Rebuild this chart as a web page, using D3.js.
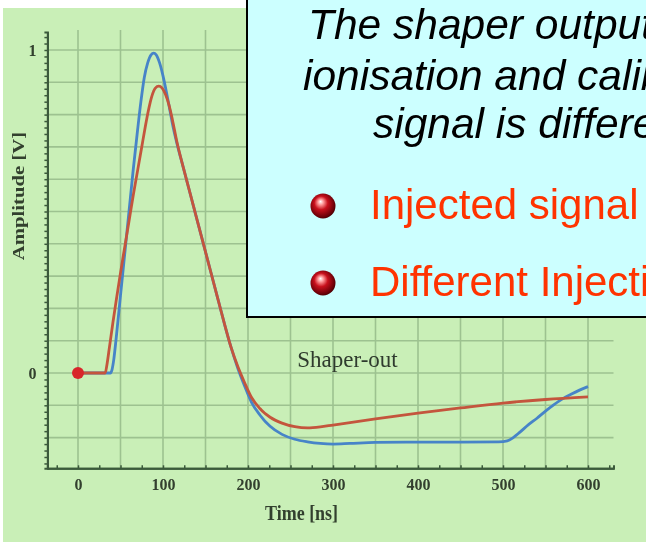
<!DOCTYPE html>
<html>
<head>
<meta charset="utf-8">
<script src="https://cdn.jsdelivr.net/npm/d3@7"></script>
<style>
  html, body { margin: 0; padding: 0; background: #ffffff; overflow: hidden; }
  svg { display: block; }
</style>
</head>
<body>
<svg id="chart" width="646" height="542"></svg>
<script>
// Axis ticks and grid
const timeTicks = [0, 100, 200, 300, 400, 500, 600];
const timeGrid = [0, 50, 100, 150, 200, 250, 300, 350, 400, 450, 500, 550, 600];
const timeMinor = d3.range(-25, 626, 25);
const ampTicks = [0, 1];
const ampGrid = [-0.2, -0.1, 0, 0.1, 0.2, 0.3, 0.4, 0.5, 0.6, 0.7, 0.8, 0.9, 1.0];
const ampMinor = d3.range(-0.28, 1.05, 0.02);

// Shaper output, calibration pulse (blue)
const blueTime = [0, 38, 40, 42, 45, 50, 55, 60, 65, 70, 74, 78, 82, 86, 89, 92, 96, 100, 104, 108, 112, 116,
  124, 132, 140, 148, 156, 164, 172, 180, 188, 196, 204, 214, 226, 240, 255, 270, 285, 300, 320, 350, 400, 450, 495,
  505, 512, 520, 530, 540, 550, 560, 570, 580, 590, 600];
const blueAmp = [0, 0, 0.01, 0.04, 0.11, 0.24, 0.37, 0.50, 0.63, 0.75, 0.84, 0.915, 0.96, 0.985, 0.99, 0.985, 0.96, 0.92, 0.87, 0.815, 0.76, 0.715,
  0.635, 0.555, 0.475, 0.395, 0.315, 0.235, 0.155, 0.08, 0.015, -0.04, -0.09, -0.13, -0.165, -0.19, -0.205, -0.213, -0.218, -0.22, -0.218, -0.215, -0.214, -0.214, -0.213,
  -0.21, -0.2, -0.183, -0.16, -0.14, -0.118, -0.098, -0.08, -0.066, -0.053, -0.042];

// Shaper output, ionisation pulse (red)
const redTime = [0, 32, 34, 37, 41, 45, 50, 55, 60, 65, 70, 75, 79, 83, 87, 91, 95, 99, 103, 107, 111, 116,
  124, 132, 140, 148, 156, 164, 172, 180, 188, 196, 204, 214, 226, 240, 255, 270, 285, 300, 350, 400, 450, 500, 550, 600];
const redAmp = [0, 0, 0.025, 0.08, 0.155, 0.225, 0.31, 0.39, 0.47, 0.55, 0.625, 0.70, 0.76, 0.815, 0.858, 0.882, 0.888, 0.882, 0.862, 0.83, 0.785, 0.72,
  0.635, 0.555, 0.475, 0.395, 0.315, 0.235, 0.155, 0.08, 0.02, -0.03, -0.075, -0.11, -0.137, -0.155, -0.166, -0.17, -0.167, -0.161, -0.142, -0.124, -0.108, -0.093, -0.082, -0.074];

// Start marker
const markerTime = [0];
const markerAmp = [0];

// Texts
const curveLabel = "Shaper-out";
const xTitle = "Time [ns]";
const yTitle = "Amplitude [V]";
const noteLines = ["The shaper output of the", "ionisation and calibration", "signal is different"];
const bulletLines = ["Injected signal is exponential", "Different Injection point"];

const svg = d3.select("#chart");
const defs = svg.append("defs");
defs.append("filter").attr("id", "soft")
  .append("feGaussianBlur").attr("stdDeviation", 0.55);

const grad = defs.append("radialGradient").attr("id", "ball")
  .attr("cx", "45%").attr("cy", "45%").attr("r", "60%").attr("fx", "40%").attr("fy", "32%");
grad.append("stop").attr("offset", "0%").attr("stop-color", "#ffffff");
grad.append("stop").attr("offset", "18%").attr("stop-color", "#ff9a9a");
grad.append("stop").attr("offset", "45%").attr("stop-color", "#c8101c");
grad.append("stop").attr("offset", "85%").attr("stop-color", "#6a0008");
grad.append("stop").attr("offset", "100%").attr("stop-color", "#3a0000");

// Scales: time in ns, amplitude in V
const x = d3.scaleLinear().domain([-36, 630]).range([47.4, 613.5]);
const y = d3.scaleLinear().domain([-0.295, 1.056]).range([468.3, 31.9]);

// Plot panel
svg.append("rect").attr("x", 3).attr("y", 8).attr("width", 643).attr("height", 534).attr("fill", "#c9efb7");

const plot = svg.append("g").attr("filter", "url(#soft)");
const serif = "'Liberation Serif', 'Times New Roman', serif";
const inkColor = "#33402f";

// Grid
plot.append("g").selectAll("line").data(timeGrid).join("line")
  .attr("x1", d => x(d)).attr("x2", d => x(d))
  .attr("y1", y.range()[1] - 2).attr("y2", y.range()[0])
  .attr("stroke", "#9dc290").attr("stroke-width", 1.6);
plot.append("g").selectAll("line").data(ampGrid).join("line")
  .attr("x1", x.range()[0]).attr("x2", x.range()[1])
  .attr("y1", d => y(d)).attr("y2", d => y(d))
  .attr("stroke", "#9dc290").attr("stroke-width", 1.6);

const axisColor = "#3b5a3b";

// X axis
const xAxisMinor = plot.append("g").attr("transform", `translate(0,${y.range()[0]})`)
  .call(d3.axisBottom(x).tickValues(timeMinor).tickSize(-3).tickFormat(""));
const xAxis = plot.append("g").attr("transform", `translate(0,${y.range()[0]})`)
  .call(d3.axisBottom(x).tickValues(timeTicks).tickSize(0).tickPadding(10).tickFormat(d3.format("d")));
[xAxisMinor, xAxis].forEach(g => {
  g.selectAll("path.domain").attr("stroke", axisColor).attr("stroke-width", 2);
  g.selectAll("line").attr("stroke", axisColor).attr("stroke-width", 1.5);
});
xAxis.selectAll("text").attr("font-family", serif)
  .attr("font-size", 16).attr("font-weight", "bold").attr("fill", inkColor);

// Y axis
const yAxisMinor = plot.append("g").attr("transform", `translate(${x.range()[0]},0)`)
  .call(d3.axisLeft(y).tickValues(ampMinor).tickSize(3).tickFormat(""));
const yAxis = plot.append("g").attr("transform", `translate(${x.range()[0]},0)`)
  .call(d3.axisLeft(y).tickValues(ampTicks).tickSize(0).tickPadding(11).tickFormat(d3.format("d")));
[yAxisMinor, yAxis].forEach(g => {
  g.selectAll("path.domain").attr("stroke", axisColor).attr("stroke-width", 2);
  g.selectAll("line").attr("stroke", axisColor).attr("stroke-width", 1.5);
});
yAxis.selectAll("text").attr("font-family", serif)
  .attr("font-size", 16).attr("font-weight", "bold").attr("fill", inkColor);

// Axis titles
plot.append("text").attr("transform", `translate(${x(263)},520) scale(1,1.15)`).attr("text-anchor", "middle")
  .attr("font-family", serif).attr("font-size", 18)
  .attr("font-weight", "bold").attr("fill", inkColor).text(xTitle);
plot.append("text").attr("transform", `translate(24,${y(0.548)}) rotate(-90) scale(1.22,1)`).attr("text-anchor", "middle")
  .attr("font-family", serif).attr("font-size", 17)
  .attr("font-weight", "bold").attr("fill", inkColor).text(yTitle);

// Curves
const line = d3.line().x(d => x(d[0])).y(d => y(d[1])).curve(d3.curveMonotoneX);
const blue = d3.zip(blueTime, blueAmp);
const red = d3.zip(redTime, redAmp);
plot.append("path").datum(blue).attr("d", line).attr("fill", "none")
  .attr("stroke", "#4684c8").attr("stroke-width", 2.8).attr("stroke-linejoin", "round");
plot.append("path").datum(red).attr("d", line).attr("fill", "none")
  .attr("stroke", "#c4553c").attr("stroke-width", 2.8).attr("stroke-linejoin", "round");

plot.selectAll("circle.marker").data(d3.zip(markerTime, markerAmp)).join("circle")
  .attr("class", "marker").attr("cx", d => x(d[0])).attr("cy", d => y(d[1])).attr("r", 6)
  .attr("fill", "#d8262c");

plot.append("text").attr("x", x(258)).attr("y", y(0.02))
  .attr("font-family", serif).attr("font-size", 23)
  .attr("fill", "#2f3a2d").text(curveLabel);

// Note box
const note = svg.append("g");
note.append("rect").attr("x", 247).attr("y", -10).attr("width", 420).attr("height", 327)
  .attr("fill", "#ccffff").attr("stroke", "#000000").attr("stroke-width", 2);
const noteX = [308, 303, 373];
const noteY = [39, 90, 138];
note.selectAll("text.note").data(noteLines).join("text").attr("class", "note")
  .attr("x", (d, i) => noteX[i]).attr("y", (d, i) => noteY[i])
  .attr("font-family", "'Liberation Sans', Arial, sans-serif").attr("font-style", "italic")
  .attr("font-size", 42.5).attr("fill", "#000000").text(d => d);

const bulletY = [219, 296];
note.selectAll("circle.ball").data(bulletLines).join("circle").attr("class", "ball")
  .attr("cx", 323).attr("cy", (d, i) => bulletY[i] - 13).attr("r", 12.5).attr("fill", "url(#ball)");
note.selectAll("text.bullet").data(bulletLines).join("text").attr("class", "bullet")
  .attr("x", 370).attr("y", (d, i) => bulletY[i])
  .attr("font-family", "'Liberation Sans', Arial, sans-serif")
  .attr("font-size", 42).attr("fill", "#ff3300").text(d => d);
</script>
</body>
</html>
